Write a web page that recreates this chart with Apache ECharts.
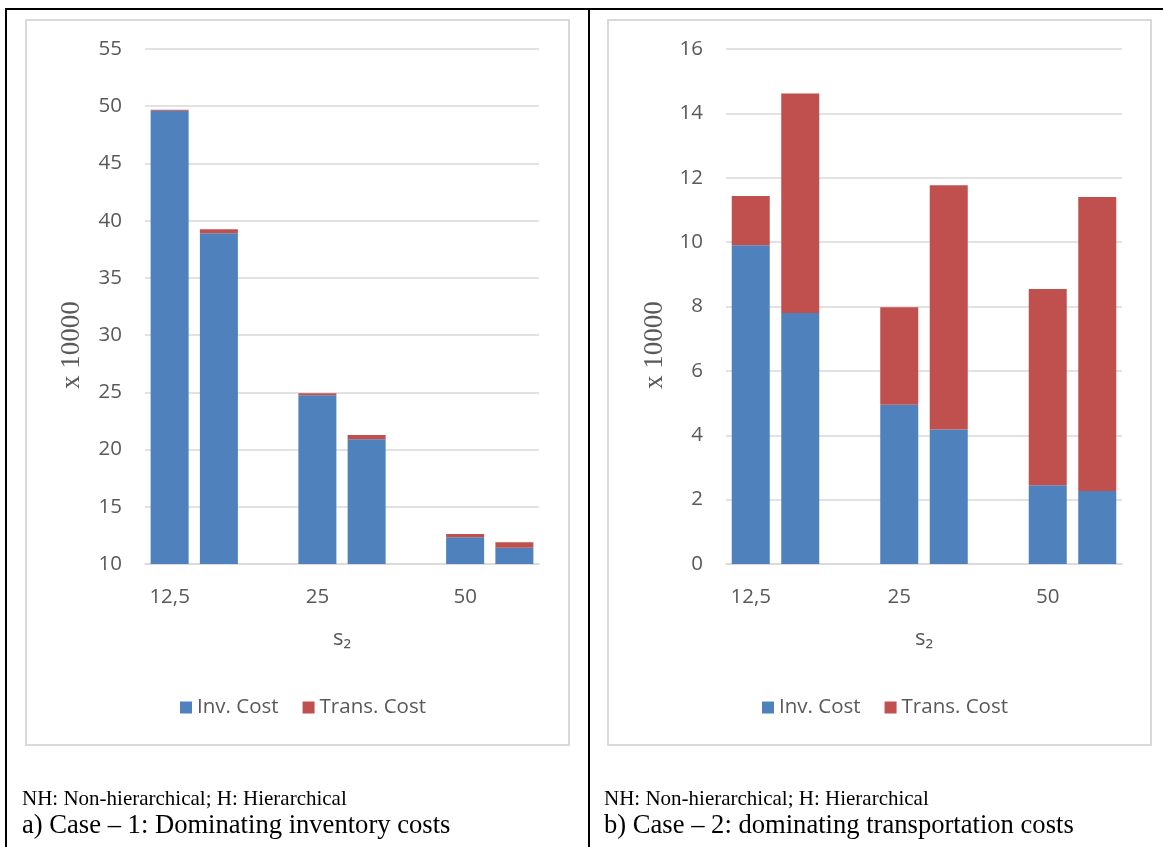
<!DOCTYPE html>
<html>
<head>
<meta charset="utf-8">
<script src="https://cdn.jsdelivr.net/npm/echarts@6/dist/echarts.min.js"></script>
<style>
html,body{margin:0;padding:0;background:#fff;}
#chart{width:1163px;height:847px;}
</style>
</head>
<body>
<div id="chart"></div>
<script>
// ---- data ----
var categories = ["12,5", "", "", "25", "", "", "50", ""];
var invCost1   = [49.6, 38.9, null, 24.75, 20.9, null, 12.33, 11.43];
var transCost1 = [0.1, 0.35, null, 0.17, 0.37, null, 0.3, 0.47];
var invCost2   = [9.9, 7.8, null, 4.95, 4.18, null, 2.45, 2.27];
var transCost2 = [1.53, 6.82, null, 3.03, 7.59, null, 6.09, 9.13];
var yTicks1 = [10, 55, 5];   // min, max, interval
var yTicks2 = [0, 16, 2];
var seriesNames = ["Inv. Cost", "Trans. Cost"];
var xAxisName = "s\u2082";
var yAxisName = "x 10000";
var note = "NH: Non-hierarchical; H: Hierarchical";
var captionA = "a) Case \u2013 1: Dominating inventory costs";
var captionB = "b) Case \u2013 2: dominating transportation costs";

var BLUE = "#4F81BD", RED = "#C0504D", GRID = "#D9D9D9", TXT = "#595959";
var FONT = "'Open Sans', 'Noto Sans', sans-serif";
var SERIF = "'Liberation Serif', 'DejaVu Serif', serif";
var FS = 20.5;

var chart = echarts.init(document.getElementById('chart'), null, {renderer: 'canvas'});

function xAx(gi) {
  return {
    type: 'category', gridIndex: gi, data: categories,
    axisLine: {show: true, lineStyle: {color: GRID, width: 1.5}},
    axisTick: {show: false},
    axisLabel: {interval: 0, margin: 23, fontSize: FS, color: TXT, fontFamily: FONT},
    name: xAxisName, nameLocation: 'middle', nameGap: 64,
    nameTextStyle: {fontSize: 22, color: TXT, fontFamily: FONT}
  };
}
function yAx(gi, t) {
  return {
    type: 'value', gridIndex: gi, min: t[0], max: t[1], interval: t[2],
    axisLine: {show: false}, axisTick: {show: false},
    axisLabel: {margin: 23, fontSize: FS, color: TXT, fontFamily: FONT},
    splitLine: {lineStyle: {color: GRID, width: 1.5}}
  };
}
function bars(gi, name, data, color) {
  return {
    type: 'bar', name: name, xAxisIndex: gi, yAxisIndex: gi, stack: 'g' + gi,
    data: data, barWidth: 38, itemStyle: {color: color},
    emphasis: {disabled: true}
  };
}

var option = {
  animation: false,
  grid: [
    {left: 145, right: 1163 - 539, top: 49, bottom: 847 - 564},
    {left: 726, right: 1163 - 1122, top: 49, bottom: 847 - 564}
  ],
  xAxis: [xAx(0), xAx(1)],
  yAxis: [yAx(0, yTicks1), yAx(1, yTicks2)],
  legend: [
    {left: 175, top: 692, icon: 'rect', itemWidth: 12, itemHeight: 12, itemGap: 24,
     data: seriesNames, textStyle: {fontSize: FS, color: TXT, fontFamily: FONT}},
    {left: 757, top: 692, icon: 'rect', itemWidth: 12, itemHeight: 12, itemGap: 24,
     data: seriesNames, textStyle: {fontSize: FS, color: TXT, fontFamily: FONT}}
  ],
  series: [
    bars(0, seriesNames[0], invCost1, BLUE),
    bars(0, seriesNames[1], transCost1, RED),
    bars(1, seriesNames[0], invCost2, BLUE),
    bars(1, seriesNames[1], transCost2, RED)
  ],
  graphic: [
    // chart frames
    {type: 'rect', shape: {x: 26, y: 20, width: 543, height: 725}, silent: true, z: -10,
     style: {fill: null, stroke: GRID, lineWidth: 2}},
    {type: 'rect', shape: {x: 608, y: 20, width: 543, height: 725}, silent: true, z: -10,
     style: {fill: null, stroke: GRID, lineWidth: 2}},
    // table borders
    {type: 'line', shape: {x1: 5, y1: 9, x2: 1163, y2: 9}, silent: true, style: {stroke: '#000', lineWidth: 2}},
    {type: 'line', shape: {x1: 6, y1: 8, x2: 6, y2: 847}, silent: true, style: {stroke: '#000', lineWidth: 2}},
    {type: 'line', shape: {x1: 589, y1: 8, x2: 589, y2: 847}, silent: true, style: {stroke: '#000', lineWidth: 2}},
    // y axis names
    {type: 'text', x: 72, y: 345, rotation: Math.PI / 2, silent: true,
     style: {text: yAxisName, fontSize: 27, fontFamily: SERIF, fill: TXT, align: 'center', verticalAlign: 'middle'}},
    {type: 'text', x: 655, y: 345, rotation: Math.PI / 2, silent: true,
     style: {text: yAxisName, fontSize: 27, fontFamily: SERIF, fill: TXT, align: 'center', verticalAlign: 'middle'}},
    // captions
    {type: 'text', x: 22, y: 799, silent: true,
     style: {text: note, fontSize: 21, fontFamily: SERIF, fill: '#000', verticalAlign: 'middle'}},
    {type: 'text', x: 22, y: 826, silent: true,
     style: {text: captionA, fontSize: 26.6, fontFamily: SERIF, fill: '#000', verticalAlign: 'middle'}},
    {type: 'text', x: 604, y: 799, silent: true,
     style: {text: note, fontSize: 21, fontFamily: SERIF, fill: '#000', verticalAlign: 'middle'}},
    {type: 'text', x: 604, y: 826, silent: true,
     style: {text: captionB, fontSize: 26.6, fontFamily: SERIF, fill: '#000', verticalAlign: 'middle'}}
  ]
};
chart.setOption(option);
</script>
</body>
</html>
